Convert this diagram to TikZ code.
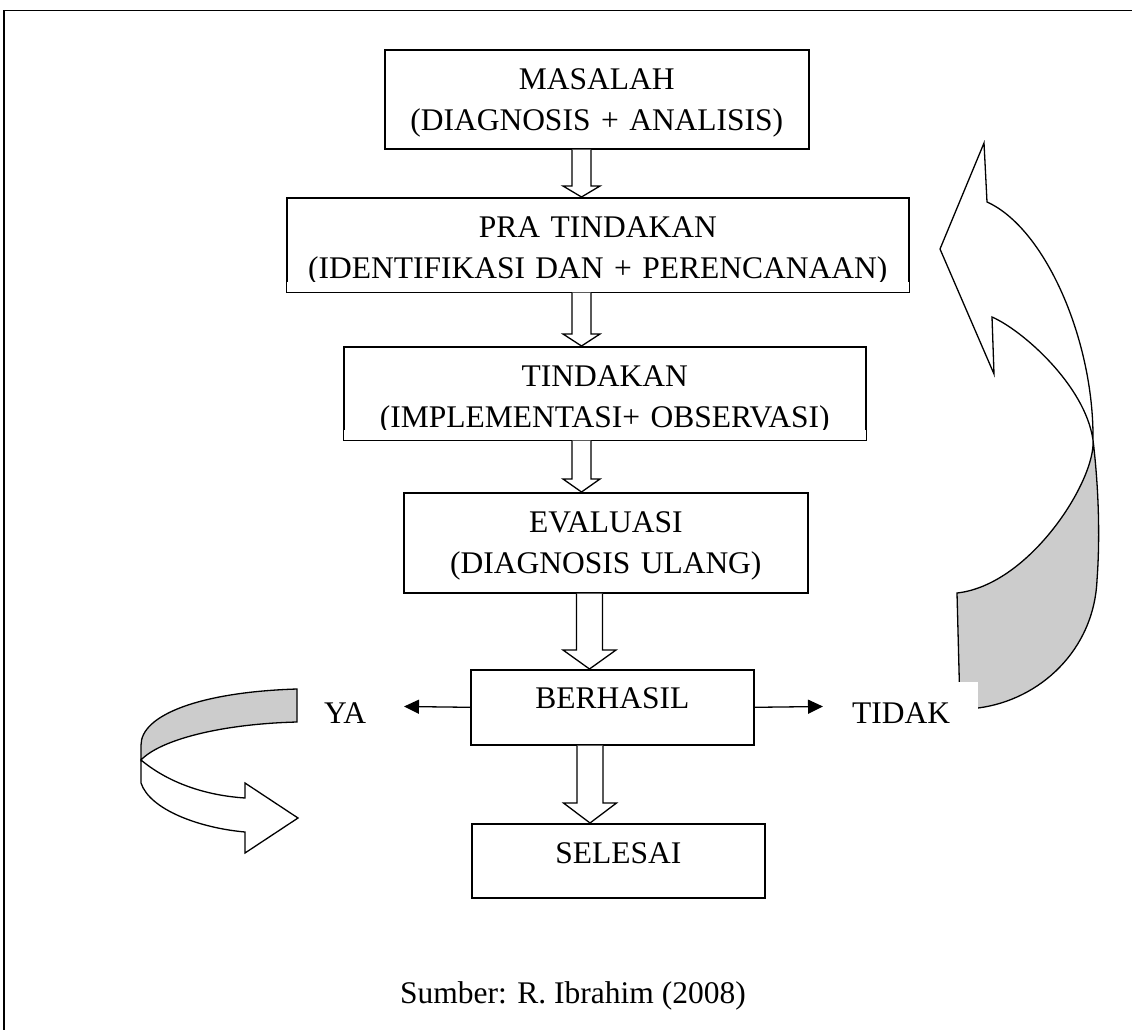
\documentclass[tikz,border=0pt]{standalone}
\usepackage{fontspec}
\setmainfont{Liberation Serif}
\usetikzlibrary{arrows.meta,positioning}

% panah blok: x, dari, ke, setengah batang, setengah kepala, panjang kepala
\newcommand{\panahblok}[6]{%
  \draw[blok] ({#1-#4},0 |- #2.south) -- ([yshift=#6pt]{#1-#4},0 |- #3.north)
    -- ([yshift=#6pt]{#1-#5},0 |- #3.north) -- (#1,0 |- #3.north)
    -- ([yshift=#6pt]{#1+#5},0 |- #3.north) -- ([yshift=#6pt]{#1+#4},0 |- #3.north)
    -- ({#1+#4},0 |- #2.south);}

\begin{document}
\begin{tikzpicture}[x=1pt,y=-1pt,>={Triangle[length=15pt,width=14pt]},font=\fontsize{31.5}{41}\selectfont]
  \tikzstyle{kotak}=[rectangle,draw,line width=1.6pt,anchor=north west,inner sep=0pt,align=center,text height=40pt]
  \tikzstyle{blok}=[draw,line width=1.3pt,fill=white,line join=miter]
  \tikzstyle{pita}=[draw,line width=1.3pt,line join=miter]
  \useasboundingbox (0,0) rectangle (1132,1030);

  % bingkai
  \draw[line width=1.8pt] (4,1030) -- (4,10.5) -- (1132,10.5);

  \node [kotak,text width=424pt,text depth=59pt] (masalah) at (384,49) {MASALAH\\(DIAGNOSIS + ANALISIS)};
  \node [kotak,text width=622pt,text depth=54pt] (pra) at (286,197) {PRA TINDAKAN\\(IDENTIFIKASI DAN + PERENCANAAN)};
  \node [kotak,text width=522pt,text depth=53pt] (tindakan) at (343,346) {TINDAKAN\\(IMPLEMENTASI+ OBSERVASI)};
  \node [kotak,text width=404pt,text depth=60pt] (evaluasi) at (403,492) {EVALUASI\\(DIAGNOSIS ULANG)};
  \node [kotak,text width=283pt,text height=39pt,text depth=36pt] (berhasil) at (470,669) {BERHASIL};
  \node [kotak,text width=293pt,text depth=34pt] (selesai) at (471,823) {SELESAI};

  % teks terpotong di bawah kotak
  \fill[white] ([xshift=1pt,yshift=1pt]pra.south west) rectangle ([xshift=-1pt,yshift=11pt]pra.south east);
  \fill[white] ([xshift=1pt,yshift=1pt]tindakan.south west) rectangle ([xshift=-1pt,yshift=11pt]tindakan.south east);

  \panahblok{581.5}{masalah}{pra}{9.5}{18.5}{11}
  \panahblok{581.5}{pra}{tindakan}{9.5}{18.5}{12}
  \panahblok{581.5}{tindakan}{evaluasi}{9.5}{18.5}{13}
  \panahblok{589.5}{evaluasi}{berhasil}{13}{26.5}{19}
  \panahblok{590}{berhasil}{selesai}{13}{26.5}{20}

  % ya
  \node [anchor=base west,inner sep=0pt] (ya) at (324,723) {YA};
  \coordinate (ujungya) at (404,706.5);
  \draw[->,line width=1.3pt] (berhasil.west) -- (ujungya);

  % panah lengkung kiri
  \filldraw[pita,fill=gray!40] (297,689) .. controls (200,692) and (141,715) .. (141,745)
    -- (141,760) .. controls (160,740) and (220,724) .. (297,722) -- cycle;
  \filldraw[pita,fill=white] (141,760) .. controls (165,780) and (200,795) .. (245,798)
    -- (245,783) -- (298,818) -- (245,853) -- (245,832)
    .. controls (200,828) and (150,810) .. (141,783) -- cycle;

  % panah lengkung kanan
  \filldraw[pita,fill=white] (987,202) .. controls (1045,228) and (1094,340) .. (1093,440)
    .. controls (1085,385) and (1022,330) .. (992,317) -- (994,374) -- (940,249) -- (984,143) -- cycle;
  \filldraw[pita,fill=gray!40] (1093,440) .. controls (1099,490) and (1100,540) .. (1097,580)
    .. controls (1094,650) and (1040,700) .. (978,708) -- (960,708) -- (957,593)
    .. controls (1030,585) and (1096,480) .. (1093,440) -- cycle;

  % tidak
  \coordinate (ujungtidak) at (823,706.5);
  \draw[->,line width=1.3pt] (berhasil.east) -- (ujungtidak);
  \node [anchor=north west,fill=white,inner xsep=7pt,inner ysep=0pt,text width=119pt,
         text height=41pt,text depth=15pt,align=left] (tidak) at (845,682) {TIDAK};

  \node [anchor=base] (sumber) at (573,1003) {Sumber: R. Ibrahim (2008)};
\end{tikzpicture}
\end{document}
